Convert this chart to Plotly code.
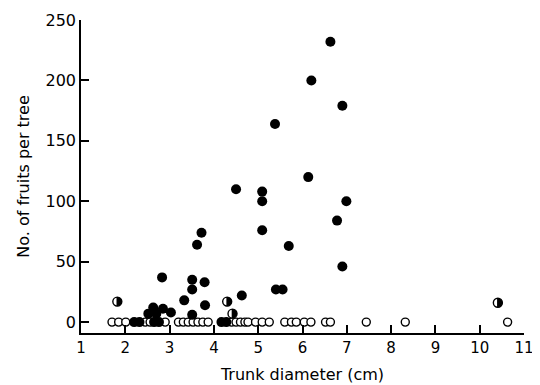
import plotly.graph_objects as go

# Trees with no fruit (open circles, all at 0)
open_x = [1.70, 1.85, 2.01, 2.45, 2.56, 2.90, 3.20, 3.31, 3.42, 3.53, 3.64, 3.75, 3.87,
          4.40, 4.50, 4.60, 4.70, 4.77, 4.94, 5.09, 5.25, 5.60, 5.75, 5.86, 6.04, 6.19,
          6.52, 6.63, 7.44, 8.32, 10.63]
open_y = [0] * len(open_x)

# Trees with fruit (filled circles)
filled_x = [2.20, 2.32, 2.65, 2.76, 4.17, 4.28,
            2.52, 2.63, 2.70, 2.85, 3.03, 2.83, 3.33, 3.51, 3.51, 3.51, 3.80, 3.79,
            3.62, 3.72, 4.50, 4.63, 5.09, 5.09, 5.09, 5.38, 5.40, 5.55, 5.69, 6.13,
            6.20, 6.63, 6.90, 6.99, 6.78, 6.90]
filled_y = [0, 0, 0, 0, 0, 0,
            7, 12, 7, 11, 8, 37, 18, 6, 27, 35, 14, 33,
            64, 74, 110, 22, 76, 100, 108, 164, 27, 27, 63, 120,
            200, 232, 179, 100, 84, 46]

# Half-filled symbols
half_x = [1.82, 4.30, 4.42, 10.41]
half_y = [17, 17, 7, 16]

x_ticks = [1, 2, 3, 4, 5, 6, 7, 8, 9, 10, 11]
y_ticks = [0, 50, 100, 150, 200, 250]

font = "DejaVu Sans"

fig = go.Figure()
fig.add_trace(go.Scatter(
    x=open_x, y=open_y, mode="markers",
    marker=dict(symbol="circle", size=8, color="white",
                line=dict(color="black", width=1.4)),
    showlegend=False, hoverinfo="skip"))
fig.add_trace(go.Scatter(
    x=filled_x, y=filled_y, mode="markers",
    marker=dict(symbol="circle", size=10, color="black",
                line=dict(color="black", width=0)),
    showlegend=False, hoverinfo="skip"))
fig.add_trace(go.Scatter(
    x=half_x, y=half_y, mode="markers",
    marker=dict(symbol="circle", size=9, color="white",
                line=dict(color="black", width=1.4)),
    showlegend=False, hoverinfo="skip"))

# filled right half of each half-filled symbol (pixel-sized shape anchored at the data point)
r = 4.6
k = 0.5523 * r
for hx, hy in zip(half_x, half_y):
    fig.add_shape(
        type="path", xref="x", yref="y",
        xsizemode="pixel", ysizemode="pixel", xanchor=hx, yanchor=hy,
        path=(f"M -0.8 {-r} C {k} {-r} {r} {-k} {r} 0 "
              f"C {r} {k} {k} {r} -0.8 {r} Z"),
        fillcolor="black", line=dict(width=0), layer="above")

fig.update_layout(
    width=532, height=377,
    margin=dict(l=73, r=16, t=12, b=52),
    paper_bgcolor="white", plot_bgcolor="white",
    font=dict(family=font, size=16, color="black"),
)
fig.update_xaxes(
    range=[1, 11], tickvals=x_ticks, ticktext=[str(v) for v in x_ticks],
    ticks="inside", ticklen=8, tickwidth=1.5, tickcolor="black",
    showline=True, linecolor="black", linewidth=1.5, showgrid=False, zeroline=False,
    title=dict(text="Trunk diameter (cm)", font=dict(size=16), standoff=13),
    tickfont=dict(size=15), automargin=False, ticklabeloverflow="allow",
)
fig.update_yaxes(
    range=[-9, 250], tickvals=y_ticks, ticktext=[str(v) for v in y_ticks],
    ticks="inside", ticklen=8, tickwidth=1.5, tickcolor="black",
    showline=True, linecolor="black", linewidth=1.5, showgrid=False, zeroline=False,
    title=dict(text="No. of fruits per tree", font=dict(size=16), standoff=12),
    tickfont=dict(size=16), automargin=False, ticklabeloverflow="allow",
)

fig.write_html("out.html")
